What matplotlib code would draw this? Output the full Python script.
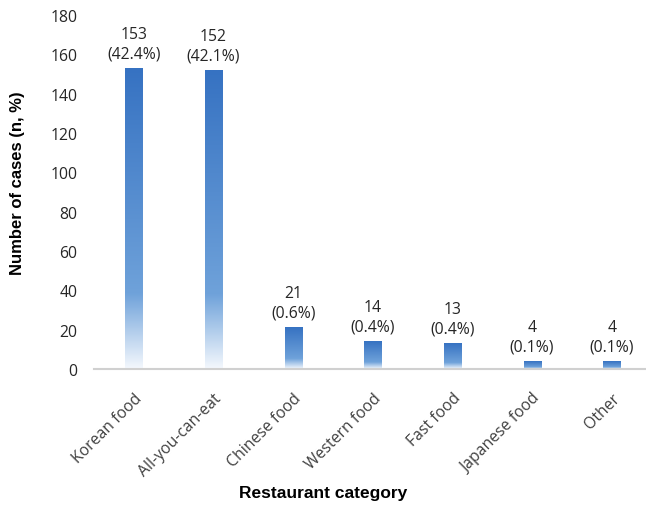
import numpy as np
import matplotlib.pyplot as plt
import matplotlib.transforms as mtransforms
from matplotlib.colors import LinearSegmentedColormap

categories = ['Korean food', 'All-you-can-eat', 'Chinese food', 'Western food',
              'Fast food', 'Japanese food', 'Other']
cases = [153, 152, 21, 14, 13, 4, 4]
percent = ['42.4%', '42.1%', '0.6%', '0.4%', '0.4%', '0.1%', '0.1%']
yticks = [0, 20, 40, 60, 80, 100, 120, 140, 160, 180]

# white at the base of each bar, deeper blue towards the top
grad = LinearSegmentedColormap.from_list(
    'bar', [(0.0, '#f4f8fd'), (0.25, '#6fa2da'), (1.0, '#3672c2')])

fig = plt.figure(figsize=(6.46, 5.10), dpi=100)
ax = fig.add_axes([94 / 646, 140 / 510, 1 - 94 / 646, 354 / 510])

width = 0.215
x = np.arange(len(categories))
bars = ax.bar(x, cases, width=width, color='none')
col = np.linspace(0, 1, 256).reshape(-1, 1)
for b in bars:
    x0, h = b.get_x(), b.get_height()
    ax.imshow(col, cmap=grad, origin='lower', aspect='auto',
              extent=[x0, x0 + width, 0, h], zorder=2)

for xi, n, p in zip(x, cases, percent):
    ax.annotate(f'{n}\n({p})', (xi, n), xytext=(0, 5), textcoords='offset points',
                ha='center', va='bottom', fontsize=11.3, color='#262626',
                family='Open Sans', linespacing=1.3)

ax.set_xlim(-0.5, 6.43)
ax.set_ylim(0, 180)
ax.set_yticks(yticks)
ax.set_xticks(x)
ax.set_xticklabels(categories, rotation=45, ha='right', va='top',
                   rotation_mode='anchor', family='Open Sans', fontsize=11.3,
                   color='#404040')
shift = mtransforms.ScaledTranslation(4 / 100, 0, fig.dpi_scale_trans)
for lab in ax.get_xticklabels():
    lab.set_transform(lab.get_transform() + shift)
for lab in ax.get_yticklabels():
    lab.set_family('Open Sans')
    lab.set_fontsize(11.3)
    lab.set_color('#262626')
ax.tick_params(axis='y', length=0, pad=12)
ax.tick_params(axis='x', length=0, pad=15)

for s in ['top', 'right', 'left']:
    ax.spines[s].set_visible(False)
ax.spines['bottom'].set_color('#d0d0d0')
ax.spines['bottom'].set_linewidth(1.5)

fig.text(18 / 646, 1 - 183 / 510, 'Number of cases (n, %)', rotation=90,
         ha='center', va='center', fontsize=12, fontweight='bold',
         family='Liberation Sans')
fig.text(0.5, 1 - 494 / 510, 'Restaurant category', ha='center', va='center',
         fontsize=12.5, fontweight='bold', family='Liberation Sans')

fig.savefig('out.png', dpi=100)
